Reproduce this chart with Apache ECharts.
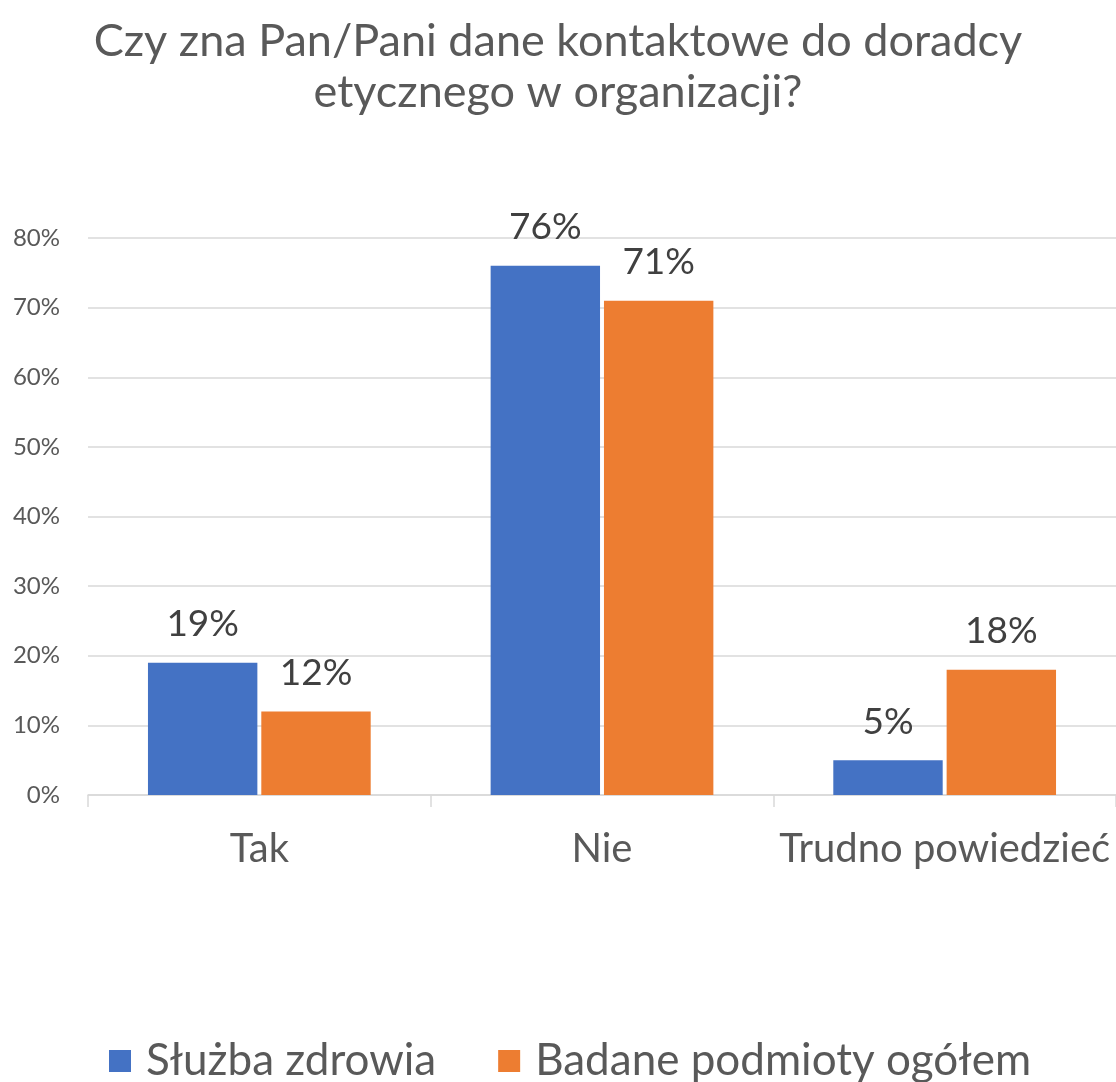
<!DOCTYPE html>
<html><head><meta charset="utf-8">
<script src="https://cdn.jsdelivr.net/npm/echarts@6/dist/echarts.min.js"></script>
<style>html,body{margin:0;padding:0;background:#fff}#c{width:1116px;height:1082px}</style>
</head><body><div id="c"></div>
<script>
const categories = ["Tak", "Nie", "Trudno powiedzieć"];
const seriesNames = ["Służba zdrowia", "Badane podmioty ogółem"];
const sluzbaZdrowia = [0.19, 0.76, 0.05];
const badanePodmioty = [0.12, 0.71, 0.18];
const colors = ["#4472C4", "#ED7D31"];
const FONT = "Lato";

const chart = echarts.init(document.getElementById('c'));
const labelCfg = {
  show: true, position: 'top', distance: 20,
  formatter: p => Math.round(p.value * 100) + '%',
  fontSize: 37, lineHeight: 37, color: '#404040', fontFamily: FONT
};
chart.setOption({
  animation: false,
  textStyle: { fontFamily: FONT },
  title: {
    text: 'Czy zna Pan/Pani dane kontaktowe do doradcy\netycznego w organizacji?',
    left: 'center', top: 16, padding: 0,
    textStyle: { fontSize: 45, fontWeight: 'normal', color: '#595959', lineHeight: 51, fontFamily: FONT }
  },
  legend: {
    top: 1039, left: 109, padding: 0,
    itemWidth: 22, itemHeight: 22, itemGap: 62,
    icon: 'rect',
    textStyle: { fontSize: 44, lineHeight: 44, color: '#595959', fontFamily: FONT, padding: [0, 0, 0, 10] },
    data: seriesNames
  },
  grid: { left: 88, right: 0, top: 238, bottom: 287, containLabel: false },
  xAxis: {
    type: 'category', data: categories,
    axisLine: { lineStyle: { color: '#D9D9D9', width: 1.5 } },
    axisTick: { show: true, interval: 0, length: 12, lineStyle: { color: '#D9D9D9', width: 1.5 } },
    axisLabel: { interval: 0, hideOverlap: false, fontSize: 40, lineHeight: 40, color: '#595959', margin: 34, fontFamily: FONT }
  },
  yAxis: {
    type: 'value', min: 0, max: 0.8, interval: 0.1,
    axisLine: { show: false }, axisTick: { show: false },
    splitLine: { lineStyle: { color: '#D9D9D9', width: 1.5 } },
    axisLabel: { fontSize: 24, color: '#595959', margin: 28, fontFamily: FONT,
      formatter: v => Math.round(v * 100) + '%' }
  },
  series: [
    { name: seriesNames[0], type: 'bar', data: sluzbaZdrowia, barGap: '3.6%', barCategoryGap: '35%',
      itemStyle: { color: colors[0] }, label: labelCfg },
    { name: seriesNames[1], type: 'bar', data: badanePodmioty, barGap: '3.6%', barCategoryGap: '35%',
      itemStyle: { color: colors[1] }, label: labelCfg }
  ]
});
</script></body></html>
